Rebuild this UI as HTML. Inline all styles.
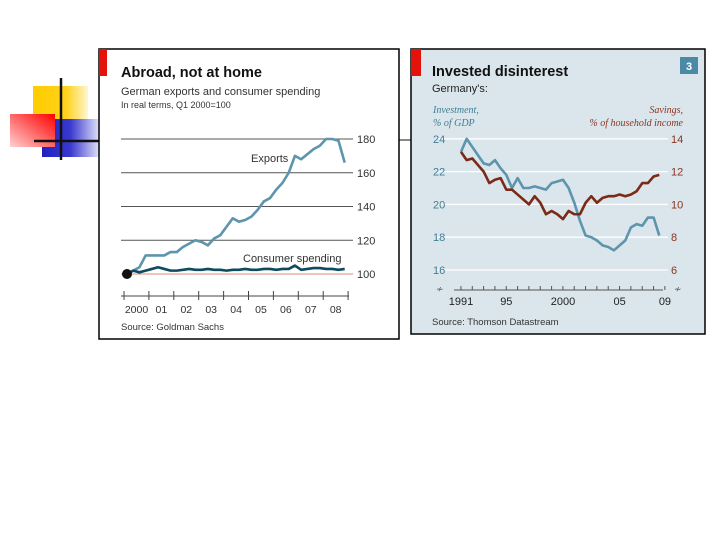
<!DOCTYPE html>
<html><head><meta charset="utf-8"><style>
body{margin:0;background:#fff;}
svg{display:block;font-family:"Liberation Sans",sans-serif;}
</style></head><body>
<svg width="720" height="540" viewBox="0 0 720 540">
<defs>
<linearGradient id="gy" x1="0" x2="1"><stop offset="0" stop-color="#ffcc00"/><stop offset="0.6" stop-color="#ffd21a"/><stop offset="1" stop-color="#fff6d0"/></linearGradient>
<linearGradient id="gb" x1="0" x2="1"><stop offset="0" stop-color="#2020c0"/><stop offset="0.5" stop-color="#3a3ad0"/><stop offset="1" stop-color="#e0e0f8"/></linearGradient>
<linearGradient id="gr" x1="1" y1="0" x2="0" y2="1"><stop offset="0" stop-color="#ff0000"/><stop offset="1" stop-color="#ffd0d0"/></linearGradient>
</defs>
<g>
<rect x="33" y="86" width="55" height="34" fill="url(#gy)"/>
<rect x="42" y="119" width="57" height="38" fill="url(#gb)"/>
<rect x="10" y="114" width="45" height="33" fill="url(#gr)"/>
<line x1="61" y1="78" x2="61" y2="160" stroke="#111" stroke-width="2.5"/>
<line x1="34" y1="141" x2="99" y2="141" stroke="#111" stroke-width="2.5"/>
<line x1="399" y1="140" x2="412" y2="140" stroke="#888" stroke-width="2"/>
</g>

<g id="left">
<rect x="99" y="49" width="300" height="290" fill="#fff" stroke="#000" stroke-width="1.5"/>
<rect x="99" y="49" width="8" height="27" fill="#e3120b"/>
<text x="121" y="77" font-size="14.5" font-weight="bold" fill="#111">Abroad, not at home</text>
<text x="121" y="95" font-size="11" fill="#333">German exports and consumer spending</text>
<text x="121" y="108" font-size="9" fill="#333">In real terms, Q1 2000=100</text>
<g id="lgrid"></g>
<line x1="121" y1="296" x2="349" y2="296" stroke="#444" stroke-width="1"/>
<g id="lticks"></g>
<text x="251" y="162" font-size="11" fill="#333">Exports</text>
<text x="243" y="262" font-size="11" fill="#333">Consumer spending</text>
<g id="lseries"></g>
<text x="121" y="330" font-size="9.5" fill="#333">Source: Goldman Sachs</text>
</g>

<g id="right">
<rect x="411" y="49" width="294" height="285" fill="#dbe5ec" stroke="#000" stroke-width="1.5"/>
<rect x="411" y="49" width="10" height="27" fill="#e3120b"/>
<text x="432" y="76" font-size="14.5" font-weight="bold" fill="#111">Invested disinterest</text>
<text x="432" y="92" font-size="11" fill="#222">Germany's:</text>
<rect x="680" y="57" width="18" height="17" fill="#4a8aa6"/>
<text x="689" y="70" font-size="11" font-weight="bold" fill="#fff" text-anchor="middle">3</text>
<text x="433" y="113" font-size="10" font-style="italic" font-family="Liberation Serif,serif" fill="#3f7f95">Investment,</text>
<text x="433" y="126" font-size="10" font-style="italic" font-family="Liberation Serif,serif" fill="#3f7f95">% of GDP</text>
<text x="683" y="113" font-size="10" font-style="italic" font-family="Liberation Serif,serif" fill="#8a3520" text-anchor="end">Savings,</text>
<text x="683" y="126" font-size="10" font-style="italic" font-family="Liberation Serif,serif" fill="#8a3520" text-anchor="end">% of household income</text>
<g id="rgrid"></g>
<g id="rticks"></g>
<g id="rseries"></g>
<text x="432" y="325" font-size="9.5" fill="#333">Source: Thomson Datastream</text>
</g>
</svg>
<script>
// Left chart data (quarterly, Q1 2000 = 100)
const lYearLabels = ["2000","01","02","03","04","05","06","07","08"];
const lTicks = [100,120,140,160,180];
const exportsVals = [100,102,104,111,111,111,111,113,113,116,118,120,119,117,121,123,128,133,131,132,134,138,143,145,150,154,160,170,168,171,174,176,180,180,179,166];
const consumerVals = [100,102,101,102,103,104,103,102,102,102.5,103,102.5,102.5,103,102.5,102.5,102,102.5,102.5,103,102.5,102.5,103,103,102.5,103,103,105,102.5,103,103.5,103.5,103,103,102.5,103];
// Right chart data (half-yearly from 1991)
const rYearLabels = [[1991,"1991"],[1995,"95"],[2000,"2000"],[2005,"05"],[2009,"09"]];
const rLeftTicks = [16,18,20,22,24];
const rRightTicks = [6,8,10,12,14];
const investVals = [23.2,24.0,23.5,23.0,22.5,22.4,22.7,22.2,21.8,21.0,21.6,21.0,21.0,21.1,21.0,20.9,21.3,21.4,21.5,21.0,20.1,19.0,18.1,18.0,17.8,17.5,17.4,17.2,17.5,17.8,18.6,18.8,18.7,19.2,19.2,18.1];
const savingsVals = [13.2,12.7,12.8,12.4,12.0,11.3,11.5,11.6,10.9,10.9,10.6,10.3,10.0,10.5,10.1,9.4,9.6,9.4,9.1,9.6,9.4,9.4,10.1,10.5,10.1,10.4,10.5,10.5,10.6,10.5,10.6,10.8,11.3,11.3,11.7,11.8];

const NS="http://www.w3.org/2000/svg";
function mk(tag,attrs,parent,txt){const e=document.createElementNS(NS,tag);for(const k in attrs)e.setAttribute(k,attrs[k]);if(txt!==undefined)e.textContent=txt;parent.appendChild(e);return e;}

// Left axes
const lx=q=>127+q*6.22;
const ly=v=>274-(v-100)*(135/80);
const lg=document.getElementById('lgrid');
lTicks.forEach(t=>{
  const l=mk('line',{x1:121,x2:353,y1:ly(t),y2:ly(t),stroke:t===100?'#e08a70':'#555','stroke-width':1},lg);
  
  
  const tx=mk('text',{x:357,y:ly(t)+4,'font-size':11,fill:'#333'},lg,String(t));
  
  
});
const lt=document.getElementById('lticks');
for(let i=0;i<=9;i++){const x=124+i*24.9;mk('line',{x1:x,x2:x,y1:i%1?293:291,y2:300,stroke:'#444'},lt);}
lYearLabels.forEach((s,i)=>{
  const t=mk('text',{x:136.5+i*24.9,y:313,'font-size':10.5,fill:'#333','text-anchor':'middle'},lt,s);
  
  
});
const ls=document.getElementById('lseries');
const ep=mk('polyline',{points:exportsVals.map((v,i)=>lx(i)+','+ly(v)).join(' '),fill:'none',stroke:'#5d95ad','stroke-width':2.6,'stroke-linejoin':'round'},ls);


const cp=mk('polyline',{points:consumerVals.map((v,i)=>lx(i)+','+ly(v)).join(' '),fill:'none',stroke:'#0f4a5e','stroke-width':2.6,'stroke-linejoin':'round'},ls);


const dot=mk('circle',{cx:lx(0),cy:ly(100),r:5,fill:'#111'},ls);



// Right axes
const rx=yr=>461+(yr-1991)*11.33;
const ryL=v=>270-(v-16)*16.4;
const ryR=v=>270-(v-6)*16.4;
const rg=document.getElementById('rgrid');
rLeftTicks.forEach((t,i)=>{
  const l=mk('line',{x1:437,x2:668,y1:ryL(t),y2:ryL(t),stroke:'#fff','stroke-width':1.3},rg);
  
  
  const a=mk('text',{x:433,y:ryL(t)+4,'font-size':11,fill:'#3f7f95'},rg,String(t));
  
  
  const r=rRightTicks[i];
  const b=mk('text',{x:671,y:ryR(r)+4,'font-size':11,fill:'#8a3520'},rg,String(r));
  
  
});
const rt=document.getElementById('rticks');
mk('line',{x1:454,x2:663,y1:290,y2:290,stroke:'#555'},rt);
for(let y=1991;y<=2009;y++){mk('line',{x1:rx(y-0.5)+5.6,x2:rx(y-0.5)+5.6,y1:286,y2:290,stroke:'#555'},rt);}
mk('text',{x:436,y:292,'font-size':9,fill:'#555'},rt,'≁');
mk('text',{x:674,y:292,'font-size':9,fill:'#555'},rt,'≁');
rYearLabels.forEach(([y,s])=>{
  const t=mk('text',{x:rx(y),y:305,'font-size':11,fill:'#222','text-anchor':'middle'},rt,s);
  
  
});
const rs=document.getElementById('rseries');
const ip=mk('polyline',{points:investVals.map((v,i)=>rx(1991+i*0.5)+','+ryL(v)).join(' '),fill:'none',stroke:'#5d95ad','stroke-width':2.6,'stroke-linejoin':'round'},rs);


const sp=mk('polyline',{points:savingsVals.map((v,i)=>rx(1991+i*0.5)+','+ryR(v)).join(' '),fill:'none',stroke:'#7a2a16','stroke-width':2.6,'stroke-linejoin':'round'},rs);


</script>
</body></html>
